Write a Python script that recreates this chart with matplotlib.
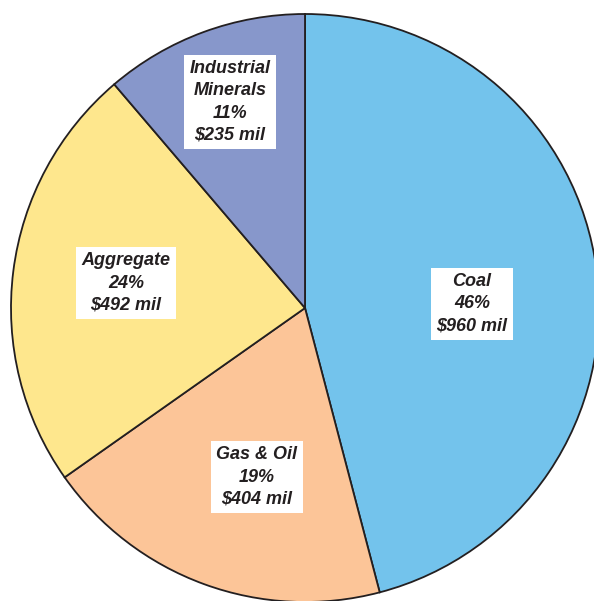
import matplotlib
matplotlib.use("Agg")
import matplotlib.pyplot as plt

# Mineral production value by sector
sectors = ["Coal", "Gas & Oil", "Aggregate", "Industrial\nMinerals"]
values_mil = [960, 404, 492, 235]
percents = [46, 19, 24, 11]
colors = ["#73C3EC", "#FCC598", "#FEE78D", "#8797CB"]

# label centres in pixel coords (x, y from top)
label_pos = [(472, 304), (257, 477), (126, 283), (230, 102)]

W, H = 594, 601
fig = plt.figure(figsize=(W / 100, H / 100), dpi=100)
ax = fig.add_axes([0, 0, 1, 1])
ax.set_xlim(0, W)
ax.set_ylim(0, H)
ax.set_aspect("equal")
ax.axis("off")

# Draw pie, clockwise from 12 o'clock
ax.pie(values_mil, colors=colors, startangle=90, counterclock=False,
       center=(305, H - 308), radius=294,
       wedgeprops=dict(edgecolor="#231f20", linewidth=1.3))
ax.set_xlim(0, W)
ax.set_ylim(0, H)

for name, val, pct, (lx, ly) in zip(sectors, values_mil, percents, label_pos):
  txt = "{}\n{}%\n${} mil".format(name, pct, val)
  ax.text(lx, H - ly, txt, ha="center", va="center", fontsize=13,
          family="Liberation Sans", fontweight="bold", style="italic",
          color="#231f20", linespacing=1.4,
          bbox=dict(boxstyle="square,pad=0.3", facecolor="white", edgecolor="none"))

fig.savefig("out.png", dpi=100)
